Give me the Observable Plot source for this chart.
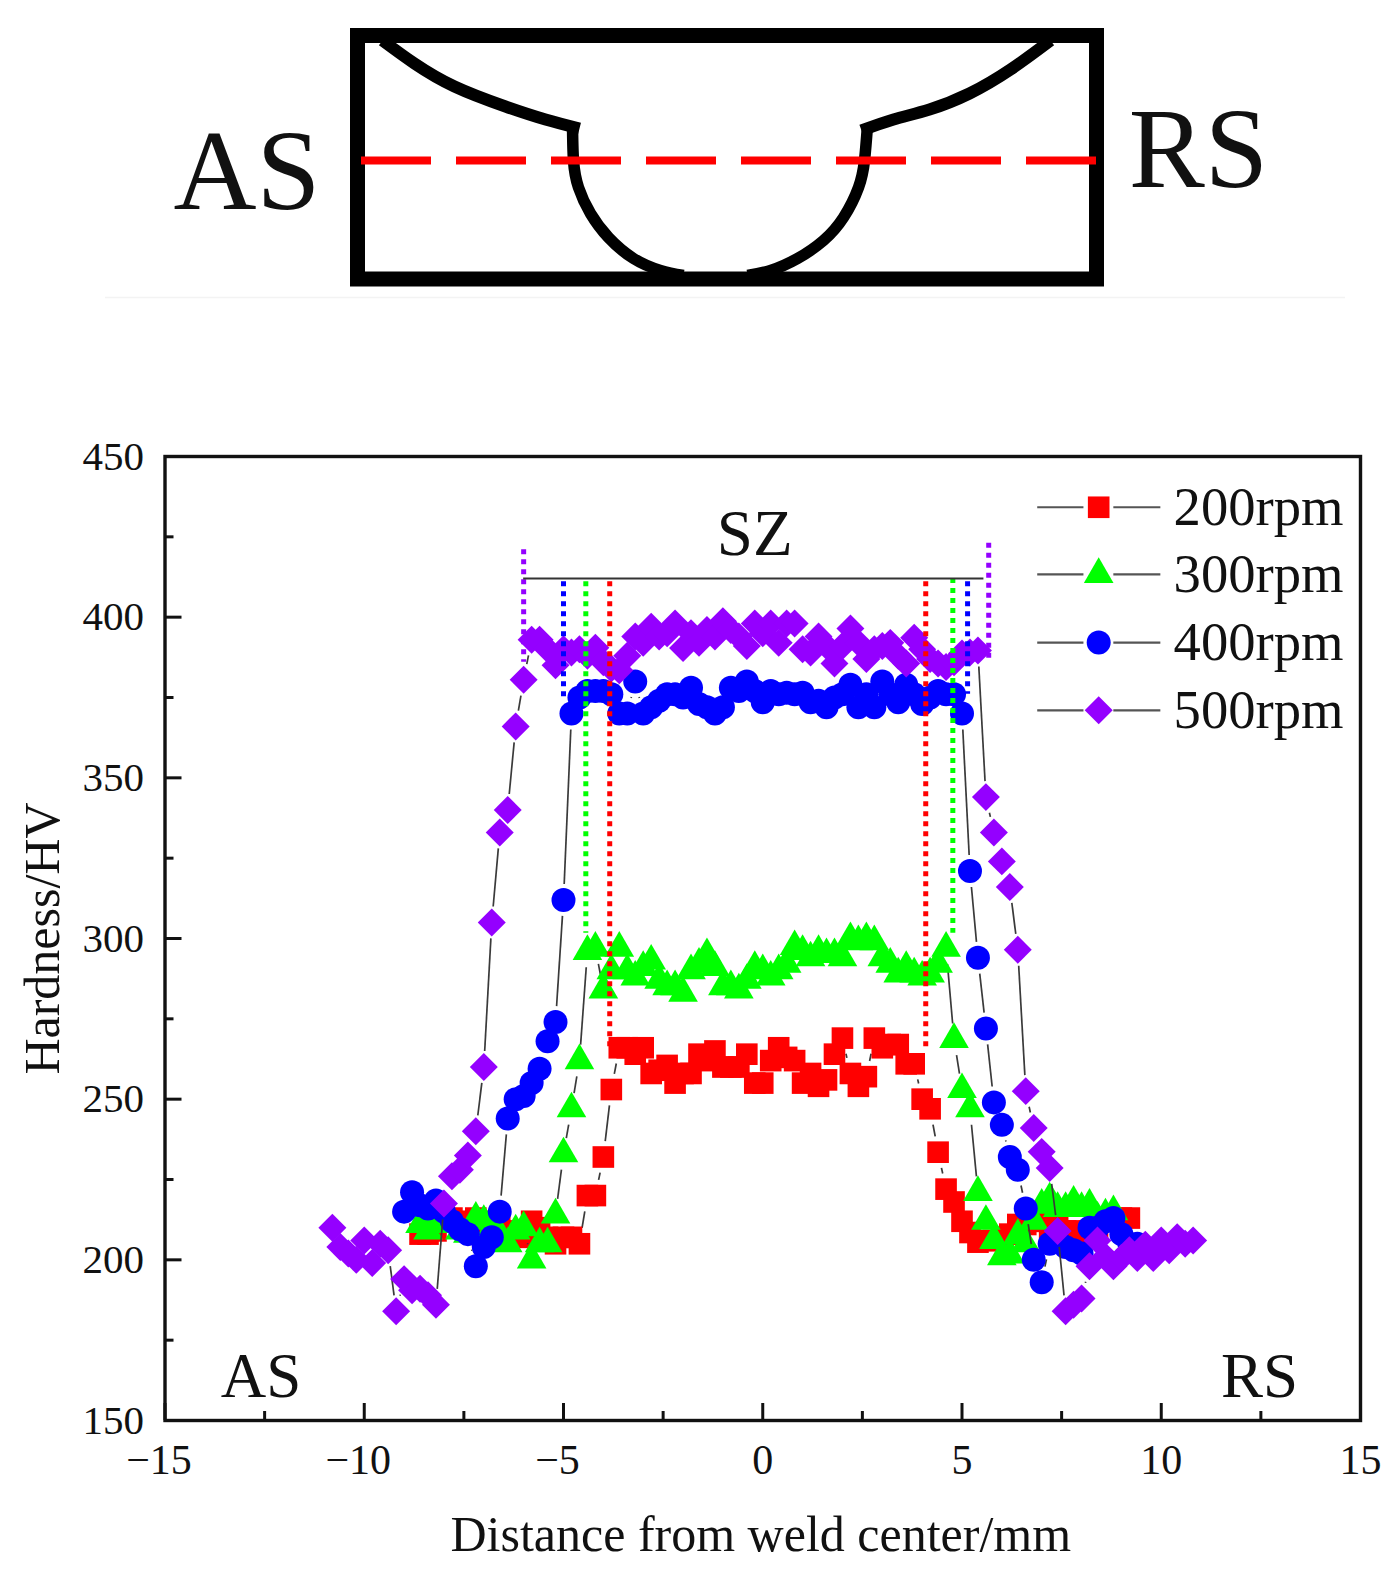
<!DOCTYPE html>
<html>
<head>
<meta charset="utf-8">
<script src="https://cdn.jsdelivr.net/npm/d3@7"></script>
<script src="https://cdn.jsdelivr.net/npm/@observablehq/plot@0.6"></script>
<style>
html,body{margin:0;padding:0;background:#fff;}
figure,svg{display:block;margin:0;}
#chart svg,#sketch svg{font-family:"Liberation Serif",serif;color:#111;}
</style>
</head>
<body>
<div id="sketch"></div>
<div id="chart"></div>
<script>
// ---------- measured series ----------
const x200 = [-8.6,-8.4,-8.2,-8,-7.8,-7.6,-7.4,-7.2,-7,-6.8,-6.6,-6.4,-6.2,-6,-5.8,-5.6,-5.4,-5.2,-5,-4.8,-4.6,-4.4,-4.2,-4,-3.8,-3.6,-3.4,-3.2,-3,-2.8,-2.6,-2.4,-2.2,-2,-1.8,-1.6,-1.4,-1.2,-1,-0.8,-0.6,-0.4,-0.2,0,0.2,0.4,0.6,0.8,1,1.2,1.4,1.6,1.8,2,2.2,2.4,2.6,2.8,3,3.2,3.4,3.6,3.8,4,4.2,4.4,4.6,4.8,5,5.2,5.4,5.6,5.8,6,6.2,6.4,6.6,6.8,7,7.2,7.4,7.6,7.8,8,8.2,8.4,8.6,8.8,9,9.2];
const y200 = [208,208,209,212,213,212,211,213,212,210,211,208,209,207,212,210,207,205,207,207,205,220,220,232,253,266,266,264,266,258,259,260.5,255,258,258,264,262,265,260,260,260,264,255,255,262,266,263,262,255,258,254,256,264,269,258,254,257,269,266,267,267,261,261,250,247,233.5,222,218,212,208.5,205.5,206,206,207,208,211,211,212,212,210,211,209,209,208,209,210,212,212,213,213];
const x300 = [-8.6,-8.4,-8.2,-8,-7.8,-7.6,-7.4,-7.2,-7,-6.8,-6.6,-6.4,-6.2,-6,-5.8,-5.6,-5.4,-5.2,-5,-4.8,-4.6,-4.4,-4.2,-4,-3.8,-3.6,-3.4,-3.2,-3,-2.8,-2.6,-2.4,-2.2,-2,-1.8,-1.6,-1.4,-1.2,-1,-0.8,-0.6,-0.4,-0.2,0,0.2,0.4,0.6,0.8,1,1.2,1.4,1.6,1.8,2,2.2,2.4,2.6,2.8,3,3.2,3.4,3.6,3.8,4,4.2,4.4,4.6,4.8,5,5.2,5.4,5.6,5.8,6,6.2,6.4,6.6,6.8,7,7.2,7.4,7.6,7.8,8,8.2,8.4,8.6,8.8];
const y300 = [211,209,211,212,211,209,208,213,212,210,208,205,209,210,200,205,205,214,233,247,262,296,297,284,290,297,290,288,291,293,287,285,285,283,290,292,295,291,285,285,284,287,291,290,288,290,292,297.5,296,294,296,295,295,294,300,299,300,299,294,292,289,291,289,288,289,292,297,268.6,253,247,221,212,206,201,201.5,207.6,205,212,217,219,216,216,218,216,217,213,214,215];
const x400 = [-9,-8.8,-8.6,-8.4,-8.2,-8,-7.8,-7.6,-7.4,-7.2,-7,-6.8,-6.6,-6.4,-6.2,-6,-5.8,-5.6,-5.4,-5.2,-5,-4.8,-4.6,-4.4,-4.2,-4,-3.8,-3.6,-3.4,-3.2,-3,-2.8,-2.6,-2.4,-2.2,-2,-1.8,-1.6,-1.4,-1.2,-1,-0.8,-0.6,-0.4,-0.2,0,0.2,0.4,0.6,0.8,1,1.2,1.4,1.6,1.8,2,2.2,2.4,2.6,2.8,3,3.2,3.4,3.6,3.8,4,4.2,4.4,4.6,4.8,5,5.2,5.4,5.6,5.8,6,6.2,6.4,6.6,6.8,7,7.2,7.4,7.6,7.8,8,8.2,8.4,8.6,8.8,9,9.2,9.4];
const y400 = [215,221,217,216,218.5,215,212,209.5,208,198,204,207,215,244,250,251,255,259.5,268,274,312,370,375,377,377,377,376,370,370,380,370,372,374,376,376,375,378,373,372,370,372,378,377,380,377,373.5,377,376,376.5,376,376.5,373.5,374,372,375,376,379,372,376,372,380,376,373.5,379,376,373,375,377,376,376,370,321,294,272,249,242,232,228,216,200,193,205,206,204,203,202,210,210,212,213,208,205,205];
const x500 = [-10.8,-10.6,-10.4,-10.2,-10,-9.8,-9.6,-9.4,-9.2,-9,-8.8,-8.6,-8.4,-8.2,-8,-7.8,-7.6,-7.4,-7.2,-7,-6.8,-6.6,-6.4,-6.2,-6,-5.8,-5.6,-5.4,-5.2,-5,-4.8,-4.6,-4.4,-4.2,-4,-3.8,-3.6,-3.4,-3.2,-3,-2.8,-2.6,-2.4,-2.2,-2,-1.8,-1.6,-1.4,-1.2,-1,-0.8,-0.6,-0.4,-0.2,0,0.2,0.4,0.6,0.8,1,1.2,1.4,1.6,1.8,2,2.2,2.4,2.6,2.8,3,3.2,3.4,3.6,3.8,4,4.2,4.4,4.6,4.8,5,5.2,5.4,5.6,5.8,6,6.2,6.4,6.6,6.8,7,7.2,7.4,7.6,7.8,8,8.2,8.4,8.6,8.8,9,9.2,9.4,9.6,9.8,10,10.2,10.4,10.6,10.8];
const y500 = [210,204,202,200,206,199,205,203,184,194,190.5,191,189,186,217.5,226,228,232.5,240,260,305,333,340,366,380.5,393,393,390,385,390,389,390,388,390.5,386,384,383.5,388,394,392,397,394,395,398,390.4,395,392,396,394,398.7,396,394,391,398,395,398,392,398,398,390,389,394,391,385.6,391,396.5,392,387,390,391,392,388,385.6,393.6,390,387,385.6,384.5,386,388.7,389,389.6,344,333,324,316,296.5,252.5,241,233.6,228.6,209,184,186,188,198,206,201,198,200.6,203,200.6,204.7,200.6,206,203,207,205,206];

const seriesNames = ["200rpm","300rpm","400rpm","500rpm"];
const seriesColors = ["#ff0000","#00ff00","#0000ff","#9400ff"];
const seriesSymbols = ["square","triangle","circle","diamond2"];
const seriesRadius = [12.2,11,12,12.6];
const seriesX = [x200,x300,x400,x500];
const seriesY = [y200,y300,y400,y500];

// dotted zone limits: x, top, bottom
const zoneX      = [-6,-5,-4.44,-3.84,4.09,4.77,5.14,5.67];
const zoneTop    = [421,411,411,411,411,412,411,423];
const zoneBottom = [386,374,301.6,266,266,301.6,376,386];
const zoneColor  = ["#9400ff","#0000ff","#00ff00","#ff0000","#ff0000","#00ff00","#0000ff","#9400ff"];

const xNeg = [-15,-10,-5];
const xPos = [0,5,10,15];
const xMajor = [...xNeg,...xPos];
const xMinor = [-12.5,-7.5,-2.5,2.5,7.5,12.5];
const yMajor = [150,200,250,300,350,400,450];
const yMinor = [175,225,275,325,375,425];

// legend rows, in chart units
const legendY = [434.2,413.3,392.1,371];
const legendLine = [[6.9,8.06],[8.81,9.99]];
const legendMarkX = 8.43;
const legendTextX = 10.31;

// ---------- chart geometry ----------
const chartW = 1397, sketchH = 300, chartH = 1284;
const m = {left:164.5, right:37, top:156, bottom:164};
const pxPerX = (chartW - m.left - m.right) / 30;
const pxPerY = (chartH - m.top - m.bottom) / 300;
const GAP = 16;

function segments(xs, ys) {
  const out = [];
  for (let i = 1; i < xs.length; i++) {
    const dx = (xs[i]-xs[i-1])*pxPerX, dy = (ys[i]-ys[i-1])*pxPerY;
    const len = Math.hypot(dx,dy);
    if (len <= 2*GAP) continue;
    const t = GAP/len;
    out.push({
      x1: xs[i-1]+(xs[i]-xs[i-1])*t, y1: ys[i-1]+(ys[i]-ys[i-1])*t,
      x2: xs[i]-(xs[i]-xs[i-1])*t,   y2: ys[i]-(ys[i]-ys[i-1])*t
    });
  }
  return out;
}

const marks = [];
// series
seriesNames.forEach((name,i)=>{
  const pts = seriesX[i].map((x,j)=>({x,y:seriesY[i][j]}));
  marks.push(Plot.link(segments(seriesX[i],seriesY[i]),{x1:"x1",y1:"y1",x2:"x2",y2:"y2",stroke:"#3a3a3a",strokeWidth:1.7}));
  marks.push(Plot.dot(pts,{x:"x",y:"y",symbol:()=>seriesSymbols[i],r:seriesRadius[i],fill:seriesColors[i],stroke:"none"}));
});
// dotted limits, above the markers
zoneX.forEach((x,i)=>{
  marks.push(Plot.ruleX([x],{y1:zoneTop[i],y2:zoneBottom[i],stroke:zoneColor[i],strokeWidth:5,strokeDasharray:"5 5"}));
});
// SZ bracket
marks.push(Plot.ruleY([412],{x1:-6,x2:5.55,stroke:"#333",strokeWidth:2}));
marks.push(Plot.text(["SZ"],{x:-0.2,y:419.5,fontSize:65,textAnchor:"middle",lineAnchor:"bottom"}));
// corner labels
marks.push(Plot.text(["AS"],{x:-13.6,y:157.3,fontSize:63,textAnchor:"start",lineAnchor:"bottom"}));
marks.push(Plot.text(["RS"],{x:11.5,y:157.3,fontSize:63,textAnchor:"start",lineAnchor:"bottom"}));
// legend
seriesNames.forEach((name,i)=>{
  legendLine.forEach(([a,b])=>{
    marks.push(Plot.ruleY([legendY[i]],{x1:a,x2:b,stroke:"#555",strokeWidth:2.2}));
  });
  marks.push(Plot.dot([name],{x:legendMarkX,y:legendY[i],symbol:()=>seriesSymbols[i],r:seriesRadius[i],fill:seriesColors[i],stroke:"none"}));
  marks.push(Plot.text([name],{x:legendTextX,y:legendY[i],fontSize:54.6,textAnchor:"start",lineAnchor:"middle"}));
});
// axes
const fmt = d3.format("d");
marks.push(Plot.axisX({ticks:xMajor,tickSize:-17,tickFormat:()=>"",strokeWidth:3,label:null}));
marks.push(Plot.axisX({ticks:xMinor,tickSize:-9,tickFormat:()=>"",strokeWidth:3,label:null}));
marks.push(Plot.axisX({ticks:xNeg,tickSize:0,tickPadding:24,tickFormat:fmt,fontSize:42,dx:-6,label:null}));
marks.push(Plot.axisX({ticks:xPos,tickSize:0,tickPadding:24,tickFormat:fmt,fontSize:42,label:null}));
marks.push(Plot.axisY({ticks:yMajor,tickSize:-17,tickPadding:38,tickFormat:fmt,fontSize:41,strokeWidth:3,label:null}));
marks.push(Plot.axisY({ticks:yMinor,tickSize:-9,tickFormat:()=>"",strokeWidth:3,label:null}));
marks.push(Plot.frame({stroke:"#111",strokeWidth:3.4}));
marks.push(Plot.text(["Distance from weld center/mm"],{frameAnchor:"bottom",dy:130,fontSize:50,lineAnchor:"bottom",x:-0.05}));
marks.push(Plot.text(["Hardness/HV"],{frameAnchor:"left",dx:-122,fontSize:50,rotate:-90,y:300,textAnchor:"middle"}));

const chart = Plot.plot({
  width:chartW,height:chartH,
  marginLeft:m.left,marginRight:m.right,marginTop:m.top,marginBottom:m.bottom,
  x:{domain:[-15,15],label:null},
  y:{domain:[150,450],label:null},
  symbol:{type:"identity"},
  marks
});
document.getElementById("chart").appendChild(chart);

// ---------- schematic (in image pixels) ----------
const boxEdges = [{x1:357.5,x2:1096.5,y1:35.5,y2:279}];
const flankLX = [382,414,454,505,545,579];
const flankLY = [40,63,86,106,119,128];
const nuggetLX = [572,573,578,590,608,633,660,683];
const nuggetLY = [122,160,187,213,237,258,270,275];
const flankRX = [1050,1010,969,929,893,861];
const flankRY = [40,69,93,109,119,130];
const nuggetRX = [867,864,858,843,823,797,770,747];
const nuggetRY = [125,160,187,217,240,258,270,275];
const toPts = (xs,ys)=>xs.map((x,i)=>({x,y:ys[i]}));

const sketch = Plot.plot({
  width:chartW,height:sketchH,margin:0,
  x:{domain:[0,chartW],range:[0,chartW],axis:null},
  y:{domain:[0,sketchH],range:[0,sketchH],axis:null},
  marks:[
    Plot.ruleY([297],{x1:105,x2:1345,stroke:"#f3f3f3",strokeWidth:1.5}),
    Plot.rect(boxEdges,{x1:"x1",x2:"x2",y1:"y1",y2:"y2",fill:"none",stroke:"#000",strokeWidth:15}),
    Plot.line(toPts(flankLX,flankLY),{x:"x",y:"y",stroke:"#000",strokeWidth:12,curve:"natural",strokeLinecap:"butt"}),
    Plot.line(toPts(flankRX,flankRY),{x:"x",y:"y",stroke:"#000",strokeWidth:12,curve:"natural",strokeLinecap:"butt"}),
    Plot.line(toPts(nuggetLX,nuggetLY),{x:"x",y:"y",stroke:"#000",strokeWidth:11.5,curve:"natural",strokeLinecap:"butt"}),
    Plot.line(toPts(nuggetRX,nuggetRY),{x:"x",y:"y",stroke:"#000",strokeWidth:11.5,curve:"natural",strokeLinecap:"butt"}),
    Plot.ruleY([160],{x1:361,x2:1096,stroke:"#ff0000",strokeWidth:8,strokeDasharray:"70 25"}),
    Plot.text(["AS"],{x:246.5,y:208,fontSize:115,textAnchor:"middle",lineAnchor:"bottom"}),
    Plot.text(["RS"],{x:1198,y:186,fontSize:114,textAnchor:"middle",lineAnchor:"bottom"})
  ]
});
document.getElementById("sketch").appendChild(sketch);
</script>
</body>
</html>
